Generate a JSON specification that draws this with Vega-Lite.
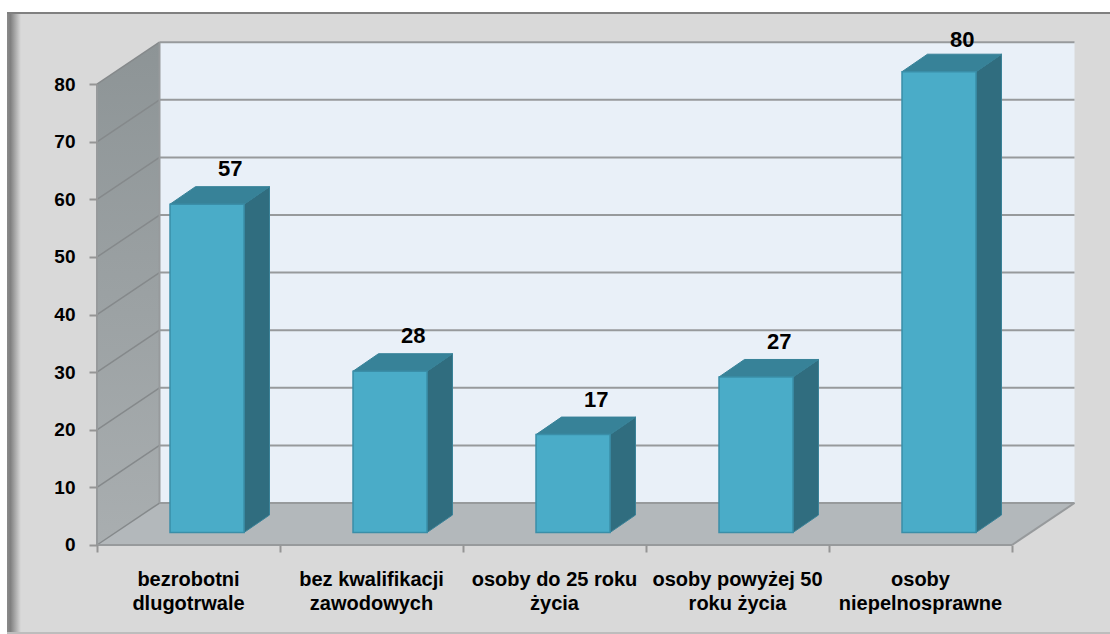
{"$schema":"https://vega.github.io/schema/vega-lite/v6.json","width":1110,"height":634,"autosize":{"type":"fit","contains":"padding"},"padding":0,"background":"#ffffff","config":{"view":{"stroke":null}},
"data":{"values":[{"kategoria":"bezrobotni\ndlugotrwale","wartosc":57},{"kategoria":"bez kwalifikacji\nzawodowych","wartosc":28},{"kategoria":"osoby do 25 roku\nżycia","wartosc":17},{"kategoria":"osoby powyżej 50\nroku życia","wartosc":27},{"kategoria":"osoby\nniepelnosprawne","wartosc":80}]},
"transform":[{"window":[{"op":"row_number","as":"n"}]},{"calculate":"datum.n-1","as":"slot"},{"calculate":"datum.slot+0.399","as":"x0"},{"calculate":"datum.x0+0.4044","as":"x1"},{"calculate":"datum.wartosc+2.17","as":"top"}],
"encoding":{"x":{"field":"X","type":"quantitative","stack":null,"scale":{"domain":[-0.53005,5.53552],"nice":false,"zero":false},"title":null,"axis":{"values":[0,1,2,3,4,5],"labels":false,"domain":false,"grid":false,"orient":"bottom","offset":-89,"tickSize":7,"tickWidth":2,"tickColor":"#959595","zindex":1,"title":null}},
"y":{"field":"Y","type":"quantitative","stack":null,"scale":{"domain":[-15.4514,94.618],"nice":false,"zero":false},"title":null,"axis":{"values":[0,10,20,30,40,50,60,70,80],"domain":false,"grid":false,"orient":"left","offset":-97,"tickSize":8,"tickWidth":2,"tickColor":"#959595","labelFont":"Liberation Sans","labelFontWeight":"bold","labelFontSize":19,"labelColor":"#000000","labelPadding":14,"zindex":1,"title":null}}},
"layer":[
{"data":{"values":[{}]},"transform":[{"calculate":"-0.4918","as":"X"},{"calculate":"5.5355","as":"X2"},{"calculate":"-15.45","as":"Y"},{"calculate":"92.53","as":"Y2"}],"mark":{"type":"rect","color":"#d9d9d9"},"encoding":{"x2":{"field":"X2"},"y2":{"field":"Y2"}}},
{"data":{"values":[{}]},"transform":[{"calculate":"-0.4918","as":"X"},{"calculate":"-0.4154","as":"X2"},{"calculate":"-15.45","as":"Y"},{"calculate":"92.53","as":"Y2"}],"mark":{"type":"rect","color":{"x1":0,"x2":1,"y1":0,"y2":0,"gradient":"linear","stops":[{"offset":0,"color":"#8a8a8a"},{"offset":0.25,"color":"#808080"},{"offset":1,"color":"#d9d9d9"}]}},"encoding":{"x2":{"field":"X2"},"y2":{"field":"Y2"}}},
{"data":{"values":[{}]},"transform":[{"calculate":"-0.4918","as":"X"},{"calculate":"5.5355","as":"X2"},{"calculate":"92.17","as":"Y"},{"calculate":"92.53","as":"Y2"}],"mark":{"type":"rect","color":"#808080"},"encoding":{"x2":{"field":"X2"},"y2":{"field":"Y2"}}},
{"data":{"values":[{}]},"transform":[{"calculate":"-0.4918","as":"X"},{"calculate":"5.5355","as":"X2"},{"calculate":"-15.45","as":"Y"},{"calculate":"-15.1","as":"Y2"}],"mark":{"type":"rect","color":"#bdbdbd"},"encoding":{"x2":{"field":"X2"},"y2":{"field":"Y2"}}},
{"data":{"values":[{}]},"transform":[{"calculate":"0.3415","as":"X"},{"calculate":"5.3415","as":"X2"},{"calculate":"7.29","as":"Y"},{"calculate":"87.29","as":"Y2"}],"mark":{"type":"rect","color":"#e9f0f8"},"encoding":{"x2":{"field":"X2"},"y2":{"field":"Y2"}}},
{"data":{"values":[{"g":0},{"g":1}]},"transform":[{"calculate":"datum.g*0.3415","as":"X"},{"calculate":"datum.g*7.29","as":"Y"},{"calculate":"80+datum.g*7.29","as":"Y2"}],"mark":{"type":"area","color":{"x1":0,"x2":0,"y1":0,"y2":1,"gradient":"linear","stops":[{"offset":0,"color":"#8d9496"},{"offset":1,"color":"#a9aeb0"}]}},"encoding":{"y2":{"field":"Y2"}}},
{"data":{"values":[{"g":0},{"g":1}]},"transform":[{"calculate":"datum.g*0.3415","as":"X"},{"calculate":"5+datum.g*0.3415","as":"X2"},{"calculate":"datum.g*7.29","as":"Y"}],"mark":{"type":"area","orient":"horizontal","color":"#b3b8bb"},"encoding":{"x2":{"field":"X2"}}},
{"data":{"values":[{"v":0},{"v":10},{"v":20},{"v":30},{"v":40},{"v":50},{"v":60},{"v":70},{"v":80}]},"transform":[{"calculate":"0.3415","as":"X"},{"calculate":"5.3415","as":"X2"},{"calculate":"datum.v+7.29","as":"Y"},{"calculate":"datum.v+7.29","as":"Y2"}],"mark":{"type":"rule","color":"#979a9c","strokeWidth":2},"encoding":{"x2":{"field":"X2"},"y2":{"field":"Y2"}}},
{"data":{"values":[{"v":0},{"v":10},{"v":20},{"v":30},{"v":40},{"v":50},{"v":60},{"v":70},{"v":80}]},"transform":[{"calculate":"0","as":"X"},{"calculate":"0.3415","as":"X2"},{"calculate":"datum.v","as":"Y"},{"calculate":"datum.v+7.29","as":"Y2"}],"mark":{"type":"rule","color":"#85898b","strokeWidth":1.5},"encoding":{"x2":{"field":"X2"},"y2":{"field":"Y2"}}},
{"data":{"values":[{"a":0,"b":5,"c":0,"d":0},{"a":0,"b":0,"c":0,"d":80},{"a":0.3415,"b":0.3415,"c":7.29,"d":87.29},{"a":5,"b":5.3415,"c":0,"d":7.29}]},"transform":[{"calculate":"datum.a","as":"X"},{"calculate":"datum.b","as":"X2"},{"calculate":"datum.c","as":"Y"},{"calculate":"datum.d","as":"Y2"}],"mark":{"type":"rule","color":"#979a9c","strokeWidth":2},"encoding":{"x2":{"field":"X2"},"y2":{"field":"Y2"}}},
{"transform":[{"calculate":"[0,1]","as":"c"},{"flatten":["c"]},{"calculate":"datum.x1+datum.c*0.1393","as":"X"},{"calculate":"2.17+datum.c*3.04","as":"Y"},{"calculate":"datum.top+datum.c*3.04","as":"Y2"}],"mark":{"type":"area","color":"#306d7f","stroke":"#3a8298","strokeWidth":1},"encoding":{"y2":{"field":"Y2"},"detail":{"field":"kategoria"}}},
{"transform":[{"calculate":"[0,1]","as":"c"},{"flatten":["c"]},{"calculate":"datum.x0+datum.c*0.1393","as":"X"},{"calculate":"datum.x1+datum.c*0.1393","as":"X2"},{"calculate":"datum.top+datum.c*3.04","as":"Y"}],"mark":{"type":"area","orient":"horizontal","color":"#378298","stroke":"#378298","strokeWidth":1},"encoding":{"x2":{"field":"X2"},"detail":{"field":"kategoria"}}},
{"transform":[{"calculate":"datum.x0","as":"X"},{"calculate":"datum.x1","as":"X2"},{"calculate":"2.17","as":"Y"},{"calculate":"datum.top","as":"Y2"}],"mark":{"type":"rect","color":"#4aacc8","stroke":"#3a8ea8","strokeWidth":1.5},"encoding":{"x2":{"field":"X2"},"y2":{"field":"Y2"}}},
{"transform":[{"calculate":"datum.x0+0.3286","as":"X"},{"calculate":"min(datum.top+6.08,87.67)","as":"Y"}],"mark":{"type":"text","font":"Liberation Sans","fontWeight":"bold","fontSize":22,"color":"#000000","baseline":"middle","align":"center"},"encoding":{"text":{"field":"wartosc"}}},
{"transform":[{"calculate":"datum.slot+0.5","as":"X"},{"calculate":"-6.08","as":"Y"}],"mark":{"type":"text","font":"Liberation Sans","fontWeight":"bold","fontSize":20,"lineHeight":24,"lineBreak":"\n","color":"#000000","baseline":"middle","align":"center"},"encoding":{"text":{"field":"kategoria"}}}
]}
